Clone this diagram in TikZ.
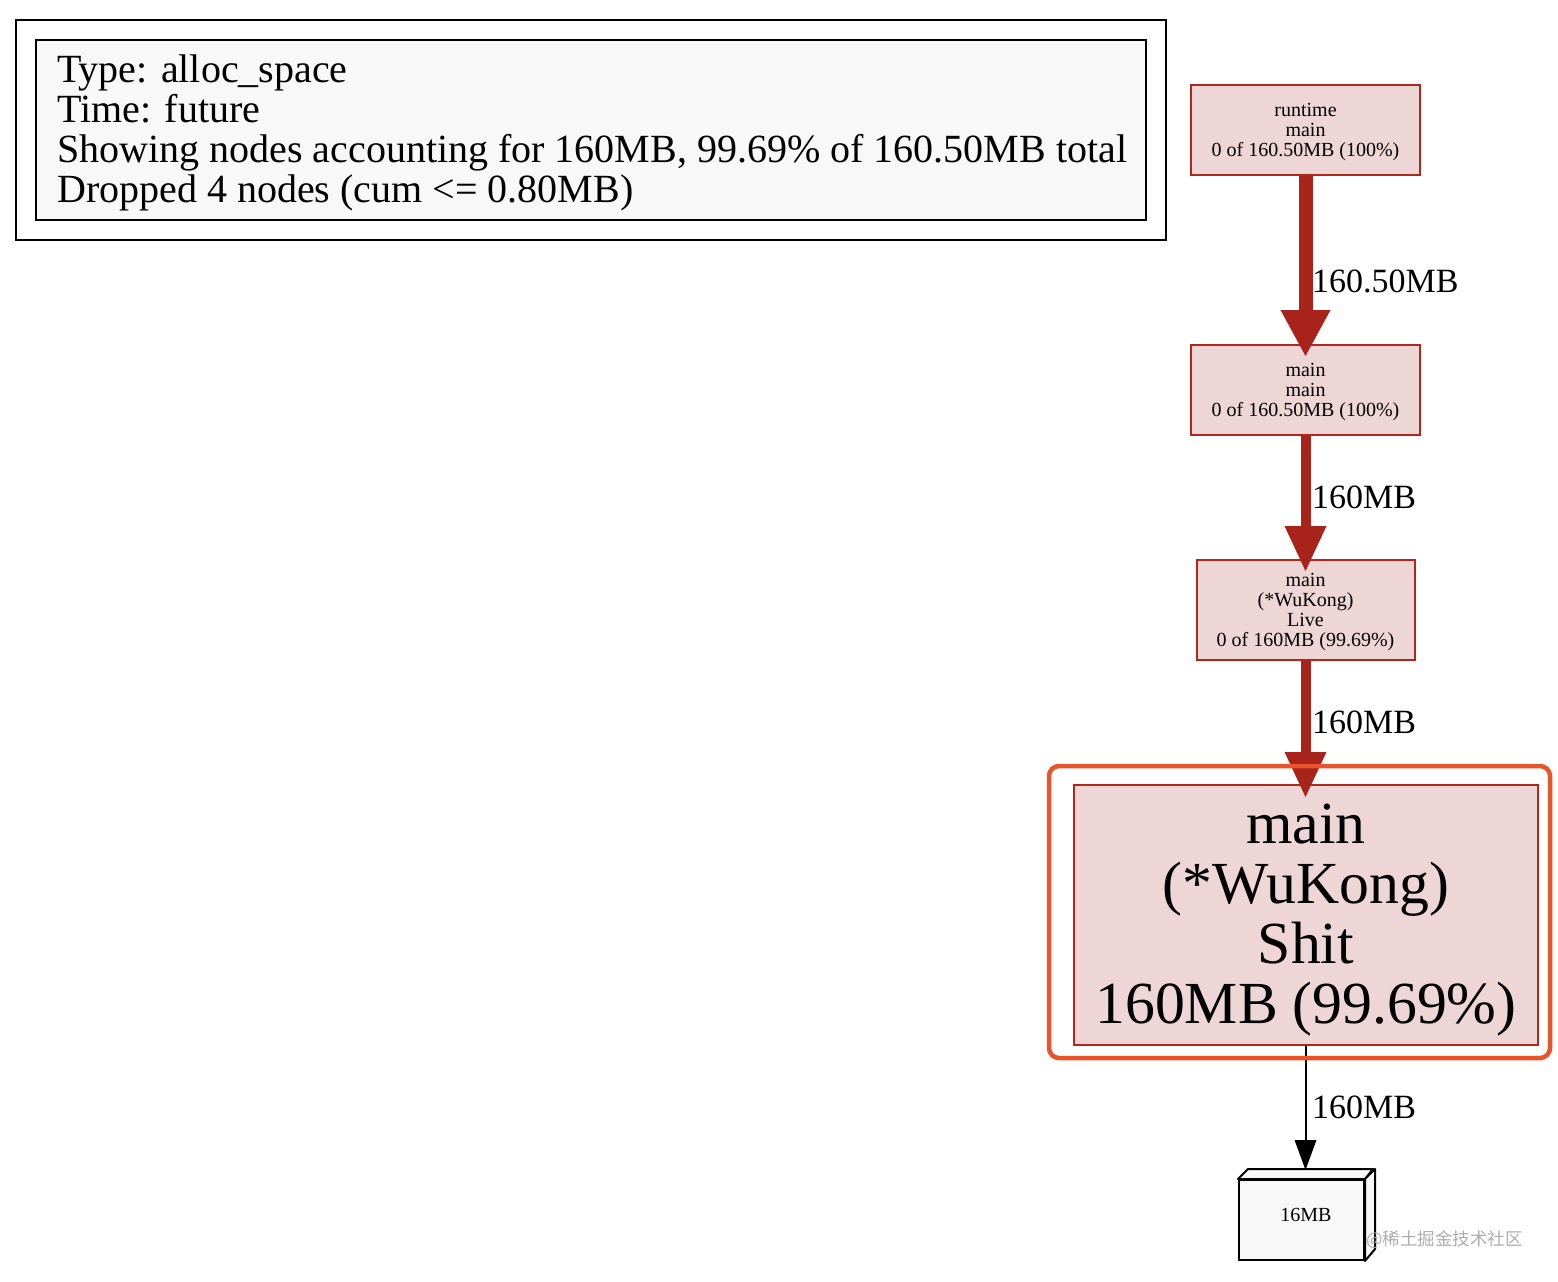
\documentclass[tikz,border=0pt]{standalone}
\usepackage{fontspec}
\setmainfont{Liberation Serif}
\newfontfamily\cjkfont{Noto Sans CJK SC}
\usetikzlibrary{arrows.meta}
\definecolor{hotfill}{HTML}{EDD6D5}
\definecolor{hotline}{HTML}{B3261A}
\definecolor{edgered}{HTML}{A8231A}
\definecolor{hilite}{HTML}{E9542B}
\definecolor{legfill}{HTML}{F8F8F8}
\begin{document}
\begin{tikzpicture}[x=1pt,y=-1pt,
  fnode/.style={draw=hotline, fill=hotfill, line width=2pt, align=center, inner sep=0pt},
  smallfont/.style={font=\fontsize{20pt}{20pt}\selectfont},
  bigfont/.style={font=\fontsize{59.7pt}{60pt}\selectfont},
  elabel/.style={anchor=west, inner sep=0pt, font=\fontsize{34pt}{34pt}\selectfont},
  hotedge/.style={draw=edgered, line width=#1},
  legbox/.style={draw=black, line width=2pt}
]
\useasboundingbox (0,0) rectangle (1558,1282);
% legend
\draw[legbox, fill=white] (16,20) rectangle (1166,240);
\draw[legbox, fill=legfill] (36,40) rectangle (1146,220);
\node (legend) [anchor=north west, align=left, inner sep=0pt, font=\fontsize{40pt}{40pt}\selectfont] at (57,55)
  {Type: alloc\_space\\Time: future\\Showing nodes accounting for 160MB, 99.69\% of 160.50MB total\\Dropped 4 nodes (cum <= 0.80MB)};
% nodes (boxes)
\node (n1) [fnode, minimum width=229pt, minimum height=90pt] at (1305.5,130) {};
\node (n2) [fnode, minimum width=229pt, minimum height=90pt] at (1305.5,390) {};
\node (n3) [fnode, minimum width=218pt, minimum height=100pt] at (1305.5,610) {};
\node (n4) [fnode, minimum width=464pt, minimum height=260pt] at (1305.5,915) {};
% node texts
\node (t1) [align=center, inner sep=0pt, smallfont] at (1305.5,132) {runtime\\main\\0 of 160.50MB (100\%)};
\node (t2) [align=center, inner sep=0pt, smallfont] at (1305.5,392) {main\\main\\0 of 160.50MB (100\%)};
\node (t3) [align=center, inner sep=0pt, smallfont] at (1305.5,612) {main\\(*WuKong)\\Live\\0 of 160MB (99.69\%)};
\node (t4) [align=center, inner sep=0pt, bigfont] at (1306,920) {main\\(*WuKong)\\Shit\\160MB (99.69\%)};
% 3D box
\node (n5) [draw=black, fill=legfill, line width=2pt, minimum width=125pt, minimum height=80pt, inner sep=0pt] at (1301.5,1220) {};
\draw[line width=2pt, fill=legfill, line join=round] (n5.north west) -- ++(10,-10) -- ++(125,0) -- (n5.north east) -- cycle;
\draw[line width=2pt, fill=legfill, line join=round] (n5.north east) -- ++(10,-10) -- ++(0,80) -- (n5.south east) -- cycle;
\coordinate (n5top) at (1305.5,1170);
\node (t5) [inner sep=0pt, smallfont] at (1306,1215) {16MB};
% edges
\draw[hotedge=14pt, -{Triangle[width=50pt,length=46pt,line width=0pt]}, shorten >=-12pt] (n1.south) -- (n2.north);
\draw[hotedge=10pt, -{Triangle[width=42pt,length=45pt,line width=0pt]}, shorten >=-12pt] (n2.south) -- (n3.north);
\draw[hotedge=10pt, -{Triangle[width=42pt,length=45pt,line width=0pt]}, shorten >=-13pt] (n3.south) -- (n4.north);
\draw[line width=2pt, -{Triangle[width=22pt,length=30pt,line width=0pt]}] (n4.south) -- (n5top);
% edge labels
\node (l1) [elabel] at (1312,281) {160.50MB};
\node (l2) [elabel] at (1312,497) {160MB};
\node (l3) [elabel] at (1312,722) {160MB};
\node (l4) [elabel] at (1312,1107) {160MB};
% highlight
\draw[draw=hilite, line width=4.5pt, rounded corners=10pt] (1049,766) rectangle (1550,1058);
% watermark
\node (wm) [anchor=west, inner sep=0pt, text=black!32, font=\cjkfont\fontsize{17.5pt}{17.5pt}\selectfont] at (1366,1240) {@稀土掘金技术社区};
\end{tikzpicture}
\end{document}
